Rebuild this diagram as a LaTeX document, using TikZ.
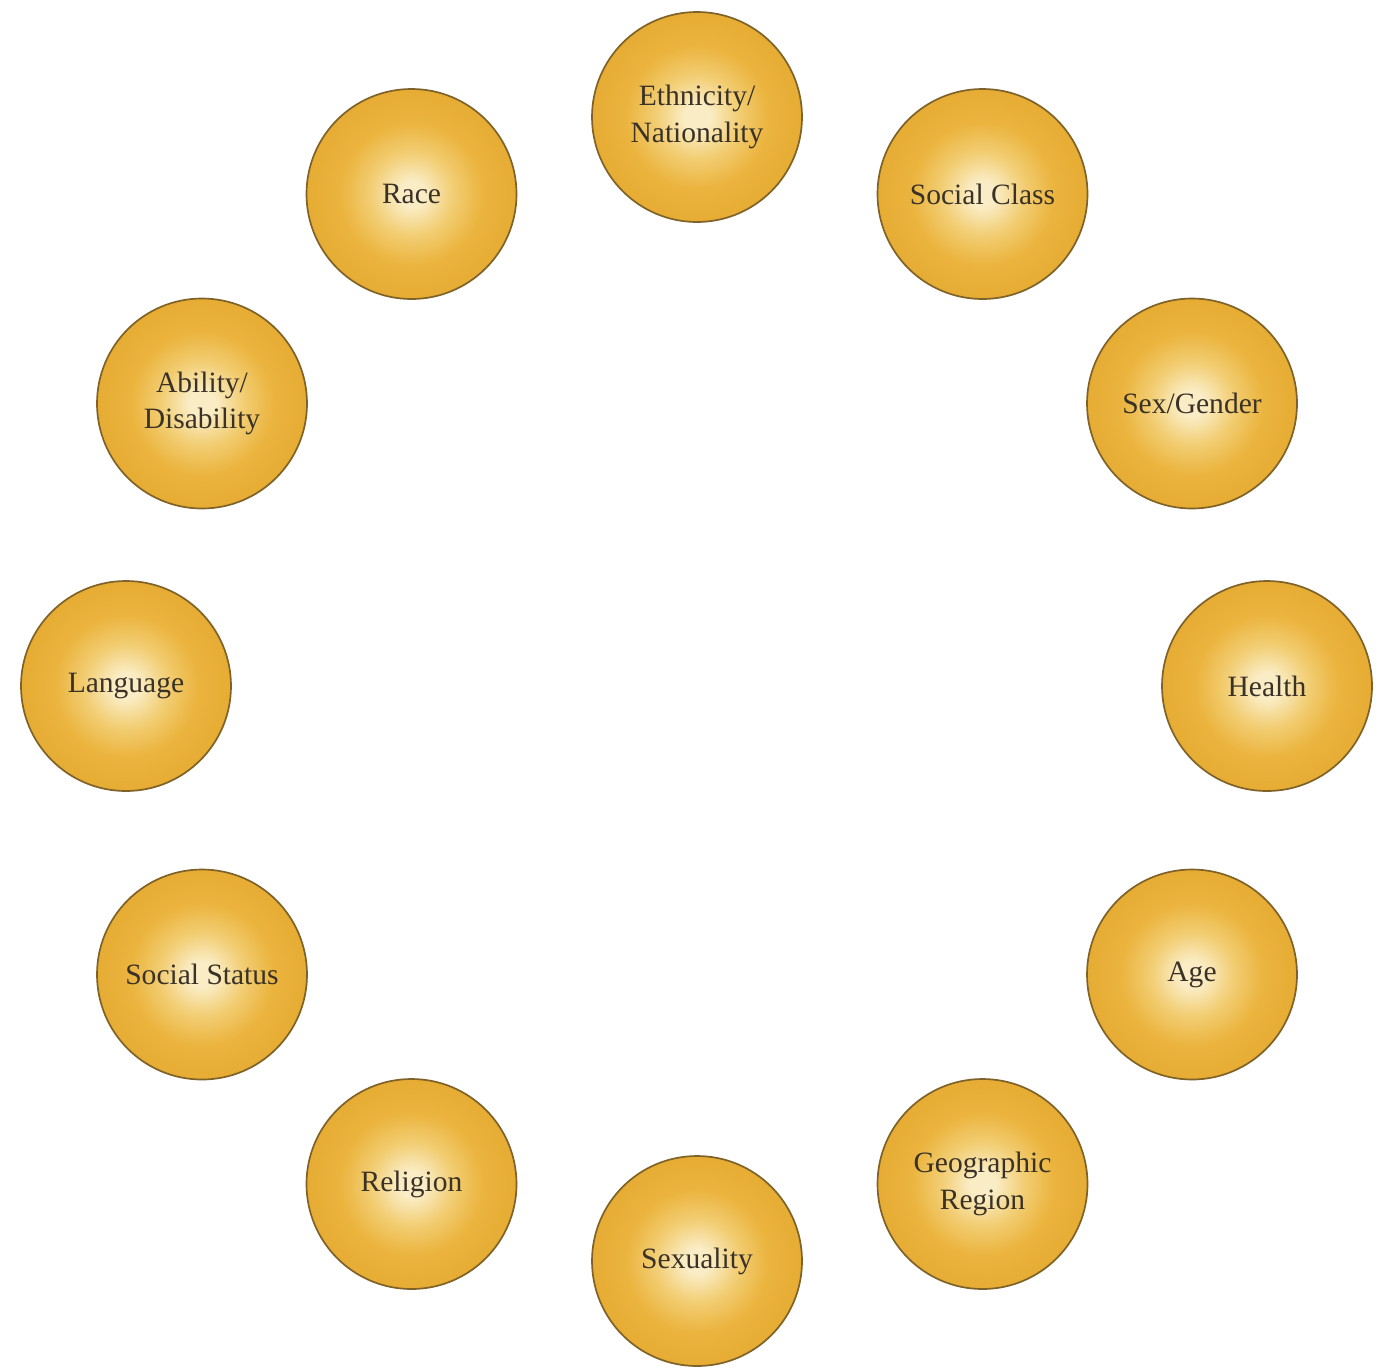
\documentclass[tikz,border=0pt]{standalone}
\usepackage{fontspec}
\setmainfont{Liberation Serif}
\definecolor{gcenter}{HTML}{FAEDC6}
\definecolor{gmid}{HTML}{F2CD72}
\definecolor{gouter}{HTML}{EBB43E}
\definecolor{gedge}{HTML}{E6AC34}
\definecolor{rim}{HTML}{7E6228}
\definecolor{ink}{HTML}{3A3226}
\pgfdeclareradialshading{goldball}{\pgfpoint{0bp}{0bp}}{%
  color(0bp)=(gcenter); color(3bp)=(gcenter); color(10bp)=(gmid);
  color(17bp)=(gouter); color(25bp)=(gedge); color(50bp)=(gedge)}
\tikzset{
  ball/.style={circle, minimum size=52.5mm, inner sep=0pt, draw=rim, line width=1.2pt,
    shading=goldball, text=ink, align=center,
    font=\fontsize{21pt}{26pt}\selectfont}
}
\begin{document}
\begin{tikzpicture}[x=0.25mm, y=-0.25mm]
  \useasboundingbox (0,0) rectangle (1388,1368);
  \fill[white] (0,0) rectangle (1388,1368);
  \coordinate (ctr) at (697,689);
  % twelve circles, evenly spaced every 30 degrees around the centre
  \path (ctr) ++(0,-572) node[ball] (ethnicity) {Ethnicity/\\Nationality};
  \path (ctr) ++(285.5,-495) node[ball] (socialclass) {Social Class};
  \path (ctr) ++(495,-285.5) node[ball] (sexgender) {Sex/Gender};
  \path (ctr) ++(570,-3) node[ball] (health) {Health};
  \path (ctr) ++(495,285.5) node[ball] (age) {Age};
  \path (ctr) ++(285.5,495) node[ball] (geo) {Geographic\\Region};
  \path (ctr) ++(0,572) node[ball] (sexuality) {Sexuality};
  \path (ctr) ++(-285.5,495) node[ball] (religion) {Religion};
  \path (ctr) ++(-495,285.5) node[ball] (status) {Social Status};
  \path (ctr) ++(-571,-3) node[ball] (language) {Language};
  \path (ctr) ++(-495,-285.5) node[ball] (ability) {Ability/\\Disability};
  \path (ctr) ++(-285.5,-495) node[ball] (race) {Race};
\end{tikzpicture}
\end{document}
